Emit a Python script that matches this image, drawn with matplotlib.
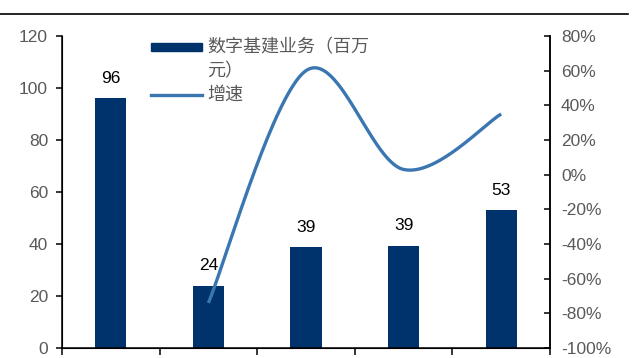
import matplotlib.pyplot as plt
import numpy as np
from matplotlib.patches import Rectangle
from matplotlib.lines import Line2D
from matplotlib.ticker import FuncFormatter

plt.rcParams['font.family'] = ['Liberation Sans', 'Noto Sans CJK SC', 'DejaVu Sans']

# data
business = [96, 24, 38.7, 39.4, 53]
bar_labels = ['96', '24', '39', '39', '53']
growth = [np.nan, -74, 60, 3, 35]
legend_labels = ['数字基建业务（百万\n元）', '增速']

bar_color = '#00336B'
line_color = '#3A76B0'
tick_color = '#595959'


def smooth(xs, ys, n=60):
    # excel style smoothed line (catmull-rom as cubic bezier)
    pts = [np.array([x, y], dtype=float) for x, y in zip(xs, ys)]
    t = np.linspace(0, 1, n)[:, None]
    out = []
    for i in range(len(pts) - 1):
        p0 = pts[i - 1] if i > 0 else pts[i]
        p1 = pts[i]
        p2 = pts[i + 1]
        p3 = pts[i + 2] if i + 2 < len(pts) else pts[i + 1]
        c1 = p1 + (p2 - p0) / 6
        c2 = p2 - (p3 - p1) / 6
        seg = ((1 - t) ** 3) * p1 + 3 * ((1 - t) ** 2) * t * c1 + 3 * (1 - t) * t ** 2 * c2 + t ** 3 * p2
        out.append(seg if i == 0 else seg[1:])
    out = np.vstack(out)
    return out[:, 0], out[:, 1]


x = np.arange(len(business))

fig = plt.figure(figsize=(6.4, 3.58), dpi=100)
ax = fig.add_axes([62 / 640, 10 / 358, 488 / 640, 312 / 358])

ax.bar(x, business, width=0.32, color=bar_color, zorder=2)
for i, (v, lbl) in enumerate(zip(business, bar_labels)):
    ax.annotate(lbl, (i, v), xytext=(0, 9), textcoords='offset points',
                ha='center', va='bottom', fontsize=12.5, color='black')

ax.set_xlim(-0.5, len(business) - 0.5)
ax.set_ylim(0, 120)
ax.set_yticks(range(0, 121, 20))
ax.set_xticks(np.arange(-0.5, len(business), 1))
ax.set_xticklabels([])
ax.tick_params(axis='x', direction='out', length=5, width=1.1)
ax.tick_params(axis='y', direction='out', length=4, width=1.1,
               labelsize=12.5, labelcolor=tick_color, pad=6)
ax.spines['top'].set_visible(False)
for s in ['left', 'bottom', 'right']:
    ax.spines[s].set_linewidth(1.1)

ax2 = ax.twinx()
gx = [i for i, g in enumerate(growth) if not np.isnan(g)]
gy = [g for g in growth if not np.isnan(g)]
sx, sy = smooth(gx, gy)
ax2.plot(sx, sy, color=line_color, lw=2.4, solid_capstyle='butt')
ax2.set_ylim(-100, 80)
ax2.set_yticks(range(-100, 81, 20))
ax2.yaxis.set_major_formatter(FuncFormatter(lambda v, p: '%d%%' % v))
ax2.tick_params(axis='y', direction='in', length=4, width=1.1,
                labelsize=12.5, labelcolor=tick_color, pad=8)
ax2.spines['top'].set_visible(False)
ax2.spines['right'].set_linewidth(1.1)

# legend drawn by hand
ax.add_patch(Rectangle((0.183, 0.952), 0.104, 0.026, transform=ax.transAxes,
                       color=bar_color, clip_on=False, zorder=5))
ax.add_line(Line2D([0.183, 0.287], [0.811, 0.811], transform=ax.transAxes,
                   color=line_color, lw=2.4, zorder=5))
ax.text(0.298, 0.925, legend_labels[0], transform=ax.transAxes, va='center',
        ha='left', fontsize=13, color=tick_color, linespacing=1.4,
        family=['Noto Sans CJK SC', 'DejaVu Sans'])
ax.text(0.298, 0.811, legend_labels[1], transform=ax.transAxes, va='center',
        ha='left', fontsize=13, color=tick_color,
        family=['Noto Sans CJK SC', 'DejaVu Sans'])

# top rule
fig.add_artist(Line2D([0, 628 / 640], [1 - 13.5 / 358] * 2, color='black', lw=1.2))

fig.savefig('out.png', dpi=100)
